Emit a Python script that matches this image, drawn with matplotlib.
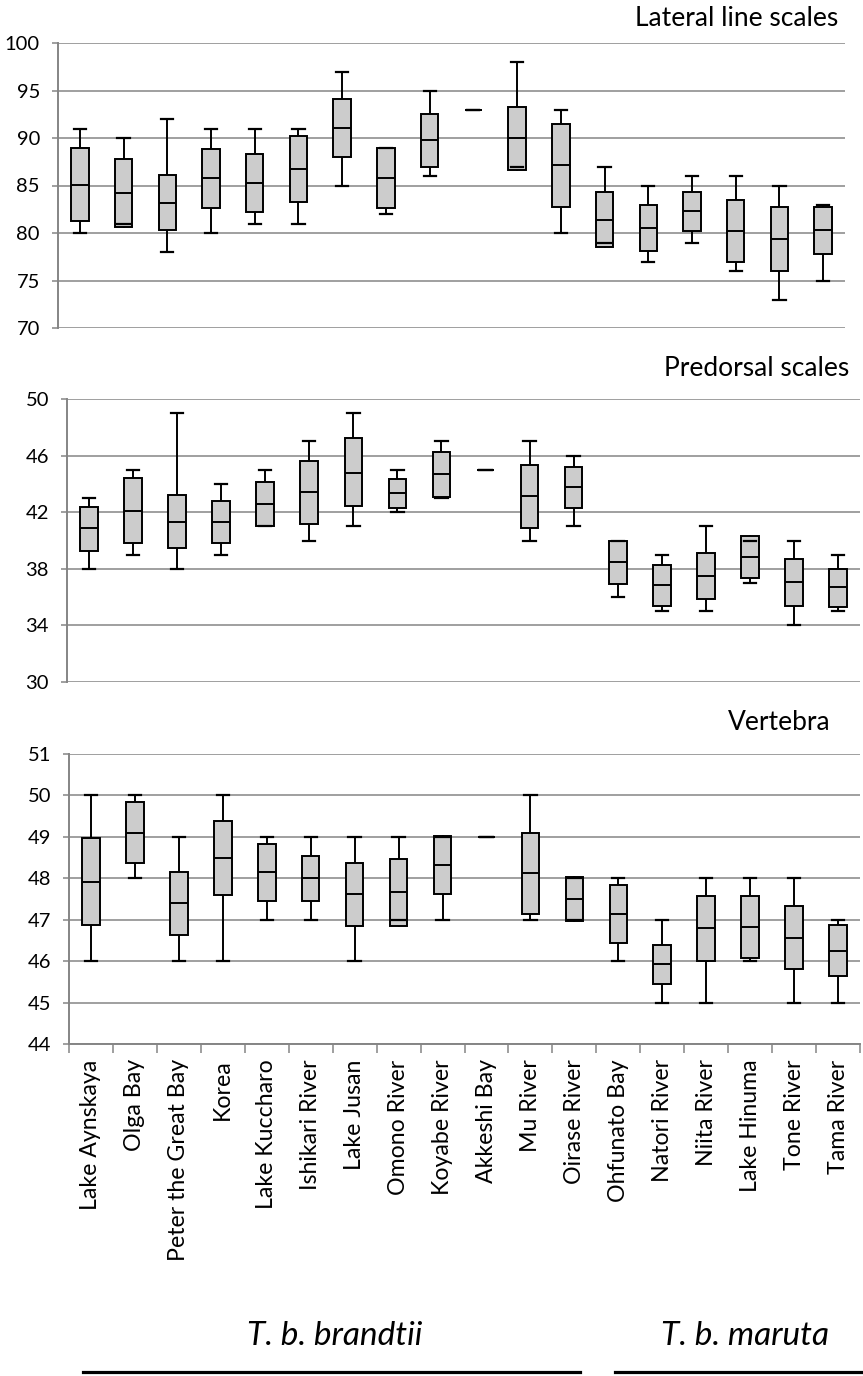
import matplotlib
matplotlib.use("Agg")
import matplotlib.pyplot as plt
from matplotlib.lines import Line2D
import numpy as np

plt.rcParams['font.family'] = ['Lato', 'DejaVu Sans']

sites = ["Lake Aynskaya", "Olga Bay", "Peter the Great Bay", "Korea", "Lake Kuccharo",
         "Ishikari River", "Lake Jusan", "Omono River", "Koyabe River", "Akkeshi Bay",
         "Mu River", "Oirase River", "Ohfunato Bay", "Natori River", "Niita River",
         "Lake Hinuma", "Tone River", "Tama River"]

# Lateral line scales: min, q1, median, q3, max
ll_min = [80, 81, 78, 80, 81, 81, 85, 82, 86, 93, 87, 80, 79, 77, 79, 76, 73, 75]
ll_q1  = [81.3, 80.6, 80.3, 82.6, 82.2, 83.3, 88.0, 82.6, 87.0, 93, 86.6, 82.7, 78.5, 78.1, 80.25, 76.9, 76.0, 77.75]
ll_med = [85.1, 84.2, 83.2, 85.75, 85.3, 86.7, 91.1, 85.8, 89.8, 93, 90.0, 87.2, 81.4, 80.5, 82.35, 80.25, 79.4, 80.3]
ll_q3  = [88.9, 87.8, 86.1, 88.8, 88.35, 90.2, 94.1, 89.0, 92.5, 93, 93.3, 91.5, 84.3, 82.9, 84.35, 83.5, 82.7, 82.7]
ll_max = [91, 90, 92, 91, 91, 91, 97, 89, 95, 93, 98, 93, 87, 85, 86, 86, 85, 83]

# Predorsal scales
pd_min = [38, 39, 38, 39, 41, 40, 41, 42, 43, 45, 40, 41, 36, 35, 35, 37, 34, 35]
pd_q1  = [39.25, 39.8, 39.45, 39.8, 41.05, 41.2, 42.45, 42.3, 43.1, 45, 40.9, 42.3, 36.9, 35.4, 35.85, 37.35, 35.4, 35.3]
pd_med = [40.85, 42.1, 41.3, 41.3, 42.6, 43.4, 44.8, 43.35, 44.7, 45, 43.15, 43.8, 38.5, 36.85, 37.5, 38.8, 37.1, 36.7]
pd_q3  = [42.4, 44.4, 43.25, 42.8, 44.1, 45.6, 47.25, 44.35, 46.25, 45, 45.35, 45.2, 40.0, 38.3, 39.15, 40.3, 38.7, 38.0]
pd_max = [43, 45, 49, 44, 45, 47, 49, 45, 47, 45, 47, 46, 40, 39, 41, 40, 40, 39]

# Vertebra
vt_min = [46, 48, 46, 46, 47, 47, 46, 47, 47, 49, 47, 47, 46, 45, 45, 46, 45, 45]
vt_q1  = [46.88, 48.36, 46.62, 47.6, 47.45, 47.46, 46.84, 46.84, 47.62, 49, 47.13, 46.96, 46.44, 45.44, 46.01, 46.08, 45.81, 45.63]
vt_med = [47.92, 49.1, 47.4, 48.5, 48.15, 48.0, 47.62, 47.66, 48.33, 49, 48.12, 47.5, 47.14, 45.92, 46.8, 46.83, 46.57, 46.25]
vt_q3  = [48.97, 49.83, 48.16, 49.38, 48.83, 48.53, 48.38, 48.47, 49.03, 49, 49.1, 48.03, 47.83, 46.4, 47.58, 47.58, 47.32, 46.87]
vt_max = [50, 50, 49, 50, 49, 49, 49, 49, 49, 49, 50, 48, 48, 47, 48, 48, 48, 47]

ll_ticks = [70, 75, 80, 85, 90, 95, 100]
pd_ticks = [30, 34, 38, 42, 46, 50]
vt_ticks = [44, 45, 46, 47, 48, 49, 50, 51]

groups = ["T. b. brandtii", "T. b. maruta"]

W, H = 863, 1376
fig = plt.figure(figsize=(W / 100, H / 100), dpi=100)

GRID = '#858585'
BOXFC = '#cccccc'

def fx(px):
    return px / W

def fy(py):
    return 1 - py / H

def panel(rect, mins, q1s, meds, q3s, maxs, ticks, title, title_xy, bottom_ticks):
    l, t, r, b = rect
    ax = fig.add_axes([fx(l), fy(b), fx(r) - fx(l), fy(t) - fy(b)])
    stats = []
    for i in range(len(sites)):
        stats.append(dict(whislo=mins[i], q1=q1s[i], med=meds[i], q3=q3s[i], whishi=maxs[i], fliers=[]))
    ax.bxp(stats, positions=np.arange(len(sites)), widths=0.4, capwidths=0.28,
           patch_artist=True, showfliers=False,
           boxprops=dict(facecolor=BOXFC, edgecolor='black', linewidth=1.4, zorder=2),
           medianprops=dict(color='black', linewidth=1.4, zorder=3),
           whiskerprops=dict(color='black', linewidth=1.4, zorder=1.5),
           capprops=dict(color='black', linewidth=1.6, zorder=3))
    ax.set_xlim(-0.5, len(sites) - 0.5)
    ax.set_ylim(ticks[0], ticks[-1])
    ax.set_yticks(ticks)
    ax.set_yticklabels([str(v) for v in ticks])
    ax.yaxis.grid(True, color=GRID, linewidth=1.1)
    ax.set_axisbelow(True)
    for s in ['top', 'right']:
        ax.spines[s].set_visible(False)
    ax.spines['left'].set_color(GRID)
    ax.spines['left'].set_linewidth(1.4)
    ax.tick_params(axis='y', colors=GRID, length=4.5, width=1.1, pad=8.5, labelsize=14.5,
                   labelcolor='black')
    if bottom_ticks:
        ax.spines['bottom'].set_color(GRID)
        ax.spines['bottom'].set_linewidth(1.4)
        ax.set_xticks(np.arange(len(sites)))
        ax.set_xticklabels(sites, rotation=90, fontsize=16.7, va='top', ha='center')
        ax.set_xticks(np.arange(-0.5, len(sites)), minor=True)
        ax.tick_params(axis='x', which='major', length=0, pad=11)
        ax.tick_params(axis='x', which='minor', length=6.5, width=1.1, color=GRID)
    else:
        ax.spines['bottom'].set_visible(False)
        ax.set_xticks([])
    fig.text(fx(title_xy[0]), fy(title_xy[1]), title, ha='right', va='center', fontsize=19)
    return ax

panel((58, 43, 845, 328), ll_min, ll_q1, ll_med, ll_q3, ll_max, ll_ticks,
      "Lateral line scales", (838, 19), False)
panel((67, 399, 860, 682), pd_min, pd_q1, pd_med, pd_q3, pd_max, pd_ticks,
      "Predorsal scales", (849, 369), False)
panel((69, 754, 860, 1044), vt_min, vt_q1, vt_med, vt_q3, vt_max, vt_ticks,
      "Vertebra", (831, 723), True)

fig.text(fx(335), fy(1336), groups[0], ha='center', va='center', fontsize=24, style='italic')
fig.text(fx(745), fy(1336), groups[1], ha='center', va='center', fontsize=24, style='italic')
fig.add_artist(Line2D([fx(83), fx(580)], [fy(1372), fy(1372)], color='black', linewidth=2.3,
                      transform=fig.transFigure))
fig.add_artist(Line2D([fx(615), fx(862)], [fy(1372), fy(1372)], color='black', linewidth=2.3,
                      transform=fig.transFigure))

fig.savefig("out.png", dpi=100)
